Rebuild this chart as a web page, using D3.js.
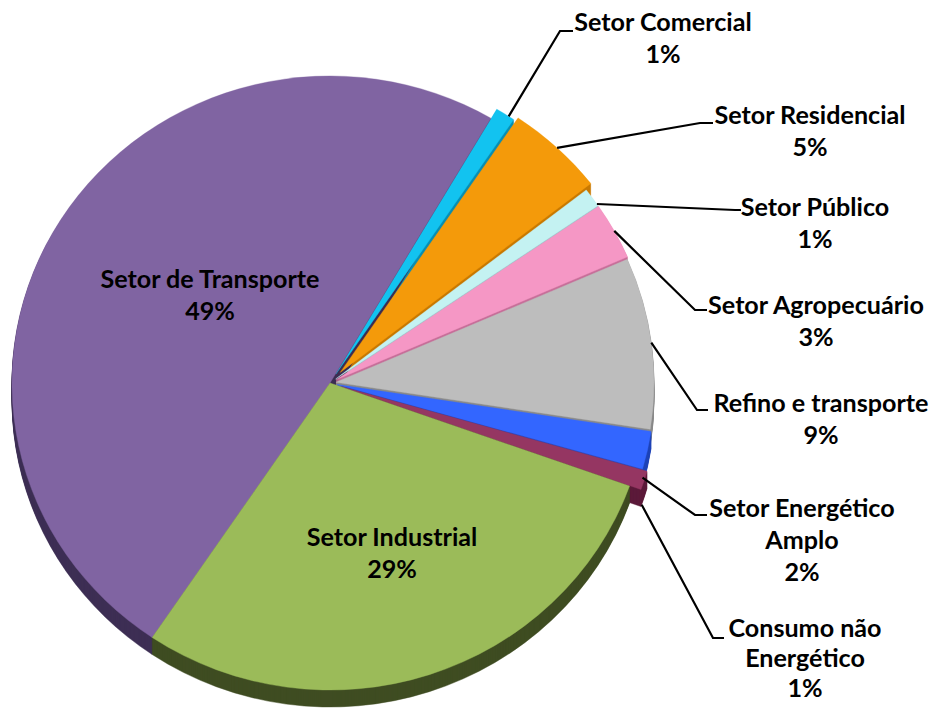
<!DOCTYPE html>
<html>
<head>
<meta charset="utf-8">
<script src="https://cdn.jsdelivr.net/npm/d3@7"></script>
<style>
  html, body { margin: 0; padding: 0; background: #ffffff; }
  svg { display: block; }
</style>
</head>
<body>
<svg id="chart" width="933" height="708"></svg>
<script>
// ---- data ----
const categories = ["Setor Comercial", "Setor Residencial", "Setor Público", "Setor Agropecuário",
  "Refino e transporte", "Setor Energético Amplo", "Consumo não Energético", "Setor Industrial", "Setor de Transporte"];
const values = [1, 5, 1, 3, 9, 2, 1, 29, 49];
const percentLabels = ["1%", "5%", "1%", "3%", "9%", "2%", "1%", "29%", "49%"];
const labelLines = [["Setor Comercial"], ["Setor Residencial"], ["Setor Público"], ["Setor Agropecuário"],
  ["Refino e transporte"], ["Setor Energético", "Amplo"], ["Consumo não", "Energético"], ["Setor Industrial"], ["Setor de Transporte"]];

// ---- style / layout ----
const topColors  = ["#12C3F0", "#F49A0A", "#C4F2F2", "#F597C5", "#BDBDBD", "#3366FF", "#953662", "#9BBB59", "#8064A2"];
const sideColors = ["#0A8FB3", "#C97A00", "#8FC9C9", "#C7709A", "#8A8A8A", "#1F44B8", "#5C1A3A", "#3F4D22", "#3E2F55"];
const explode    = [11, 15, 7, 7, 6, 7, 12, 0, 0];

const W = 933, H = 708;
const cx = 330, cy = 383, R = 318, ry = 307, k = ry / R, depth = 17;
const startDeg = 30.4;

// label layout: center x, first baseline y, line height
const labelPos = [[663, 31, 32], [810, 124, 32], [815, 216, 32], [816, 314, 32], [821, 412, 32],
  [802, 517, 32], [805, 637, 30], [392, 546, 32], [210, 288, 32]];
const leaders = [
  {i: 0, elbow: [560, 31],  end: [573, 31],  t: 0.7, side: 0},
  {i: 1, elbow: [700, 123], end: [713, 123], t: 0.5, side: 0},
  {i: 2, elbow: [735, 210], end: [741, 210], t: 0.9, side: 0},
  {i: 3, elbow: [695, 310], end: [707, 310], t: 0.5, side: 0},
  {i: 4, elbow: [697, 410], end: [708, 410], t: 0.5, side: 0},
  {i: 5, elbow: [695, 515], end: [707, 515], t: 1.0, side: 0.5},
  {i: 6, elbow: [713, 638], end: [724, 638], t: 0.9, side: 1}
];

const svg = d3.select("#chart");
const toRad = d => d * Math.PI / 180;

const pie = d3.pie().sort(null).value(d => d)
  .startAngle(toRad(startDeg)).endAngle(toRad(startDeg) + 2 * Math.PI);
const arcs = pie(values);
const arc = d3.arc().innerRadius(0).outerRadius(R);

arcs.forEach((a, i) => {
  const mid = (a.startAngle + a.endAngle) / 2;
  a.mid = mid;
  a.ex = explode[i] * Math.sin(mid);
  a.ey = -explode[i] * Math.cos(mid) * k;
  a.depthOrder = -Math.cos(mid);
});

const order = d3.range(arcs.length).sort((p, q) => arcs[p].depthOrder - arcs[q].depthOrder);

// sides (extrusion)
const gSides = svg.append("g");
order.forEach(i => {
  const a = arcs[i];
  for (let s = depth; s >= 1; s--) {
    gSides.append("path")
      .attr("d", arc(a))
      .attr("transform", `translate(${cx + a.ex},${cy + a.ey + s}) scale(1,${k})`)
      .attr("fill", sideColors[i])
      .attr("stroke", sideColors[i])
      .attr("stroke-width", 0.5);
  }
});

// tops
const gTops = svg.append("g");
order.forEach(i => {
  const a = arcs[i];
  gTops.append("path")
    .attr("d", arc(a))
    .attr("transform", `translate(${cx + a.ex},${cy + a.ey}) scale(1,${k})`)
    .attr("fill", topColors[i])
    .attr("stroke", topColors[i])
    .attr("stroke-width", 0.4);
});

// leader lines
const gLines = svg.append("g");
leaders.forEach(L => {
  const a = arcs[L.i];
  const ang = a.startAngle + (a.endAngle - a.startAngle) * L.t;
  const sx = cx + a.ex + R * Math.sin(ang);
  const sy = cy + a.ey - ry * Math.cos(ang) + L.side * depth;
  gLines.append("path")
    .attr("d", d3.line()([[sx, sy], L.elbow, L.end]))
    .attr("fill", "none")
    .attr("stroke", "#000")
    .attr("stroke-width", 2.2);
});

// labels
const fontFamily = "Lato, 'Noto Sans', sans-serif";
const probe = svg.append("text").attr("font-family", fontFamily).attr("font-weight", "bold")
  .attr("font-size", 100).text("Setor de Transporte");
const probeW = probe.node().getComputedTextLength();
probe.remove();
const fontSize = Math.min(28, 100 * 219 / probeW);

const gLabels = svg.append("g")
  .attr("font-family", fontFamily).attr("font-weight", "bold")
  .attr("font-size", fontSize).attr("fill", "#000").attr("text-anchor", "middle");
categories.forEach((c, i) => {
  const lines = labelLines[i].concat([percentLabels[i]]);
  const [lx, ly, lh] = labelPos[i];
  const t = gLabels.append("text").attr("x", lx).attr("y", ly);
  lines.forEach((ln, j) => {
    t.append("tspan").attr("x", lx).attr("y", ly + j * lh).text(ln);
  });
});
</script>
</body>
</html>
